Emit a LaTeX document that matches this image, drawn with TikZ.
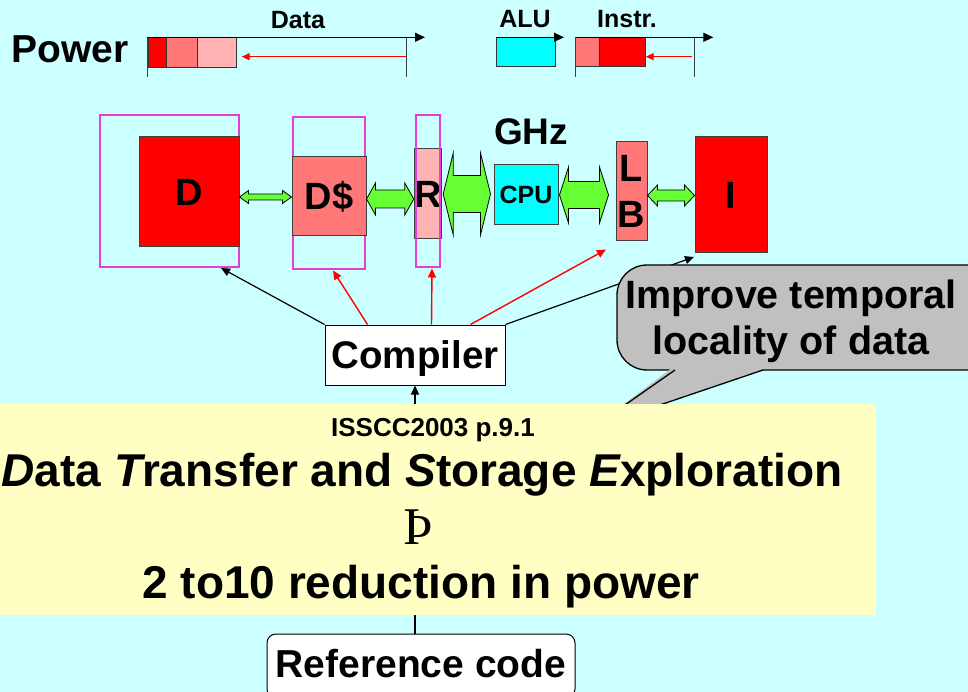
\documentclass[tikz,border=0pt]{standalone}
\usepackage{fontspec}
\setmainfont{Liberation Sans}
\newfontfamily\thornfont{Liberation Serif}
\usetikzlibrary{arrows.meta,calc}
\definecolor{bgcyan}{RGB}{204,255,255}
\definecolor{magcol}{RGB}{230,60,220}
\definecolor{grn}{RGB}{102,255,51}
\definecolor{pinkmid}{RGB}{255,119,119}
\definecolor{pinklight}{RGB}{255,179,179}
\definecolor{cyanbox}{RGB}{0,255,255}
\definecolor{callgray}{RGB}{192,192,192}
\definecolor{yel}{RGB}{255,255,195}
\newcommand\fs[1]{\fontsize{#1}{#1}\selectfont\bfseries}
\newcommand\fatarrow[5]{%
  \path[garrow] let \p1=(#1), \p2=(#2) in
    (\x1,\y1) -- (\x1+#5,\y1+#4) -- (\x1+#5,\y1+#3) -- (\x2-#5,\y1+#3) -- (\x2-#5,\y1+#4) --
    (\x2,\y1) -- (\x2-#5,\y1-#4) -- (\x2-#5,\y1-#3) -- (\x1+#5,\y1-#3) -- (\x1+#5,\y1-#4) -- cycle;}
\begin{document}
\begin{tikzpicture}[x=1pt,y=-1pt,
  box/.style={draw=black!75, line width=1pt, inner sep=0pt, font=\fs{38}},
  capt/.style={text height=27pt, text depth=0pt},
  outerbox/.style={draw=magcol, line width=1.4pt, inner sep=0pt},
  garrow/.style={fill=grn, draw=black, line width=0.8pt},
  blkarr/.style={draw=black, line width=1.2pt, -{Triangle[length=9pt,width=8pt]}},
  redarr/.style={draw=red, line width=1.4pt, -{Triangle[length=9pt,width=8pt]}},
  smallred/.style={draw=red, line width=1.4pt, -{Triangle[length=8pt,width=7pt]}},
  axis/.style={draw=black, line width=1.2pt, -{Triangle[length=10pt,width=9pt]}},
  tick/.style={draw=black!75, line width=1pt},
  seg/.style={draw=black!80, line width=1pt},
  lbl/.style={inner sep=0pt, anchor=base, font=\fs{25}},
]
\useasboundingbox (0,0) rectangle (968,692);
\clip (0,0) rectangle (968,692);
\fill[bgcyan] (0,0) rectangle (968,692);

% power timelines
\node[lbl, anchor=base west, font=\fs{39}] (power) at (11,63) {Power};
\node[lbl] (datal) at (298,29) {Data};
\filldraw[seg, fill=red] (148,37.3) rectangle (166.3,67.3);
\filldraw[seg, fill=pinkmid] (166.3,37.3) rectangle (197.3,67.3);
\filldraw[seg, fill=pinklight] (197.3,37.3) rectangle (236.7,67.3);
\draw[tick] (147.3,37.3) -- (147.3,77);
\draw[tick] (406,37.3) -- (406,77);
\draw[axis] (147.3,37.3) -- (425,37.3);
\draw[smallred] (406,56.7) -- (241.7,56.7);

\node[lbl] (alul) at (525,28) {ALU};
\filldraw[seg, fill=cyanbox] (496,37.3) rectangle (555.3,66.7);
\draw[axis] (496,37.3) -- (564,37.3);

\node[lbl] (instrl) at (627,27.5) {Instr.};
\filldraw[seg, fill=pinkmid] (575.7,37.3) rectangle (599.3,67);
\filldraw[seg, fill=red] (599.3,37.3) rectangle (645,67);
\draw[tick] (575.7,37.3) -- (575.7,77);
\draw[tick] (694.3,37.3) -- (694.3,77);
\draw[axis] (575.7,37.3) -- (713.3,37.3);
\draw[smallred] (692,56.7) -- (645.7,56.7);

% memory hierarchy
\node[outerbox, minimum width=139pt, minimum height=152pt] (Dout) at (169.5,191) {};
\node[box, capt, fill=red, minimum width=100pt, minimum height=110pt] (D) at (189,192) {D};
\node[outerbox, minimum width=72pt, minimum height=152pt] (Dsout) at (329,193) {};
\node[box, capt, fill=pinkmid, minimum width=74pt, minimum height=79pt] (Ds) at (329,196.5) {D\$};
\node[box, capt, fill=pinklight, minimum width=24pt, minimum height=90pt] (R) at (428,194) {R};
\node[outerbox, minimum width=24pt, minimum height=152pt] (Rout) at (428,191) {};
\node[lbl, font=\fs{37}] (ghz) at (531,145) {GHz};
\node[box, fill=cyanbox, minimum width=64pt, minimum height=60pt, font=\fs{25}, text height=18pt, text depth=0pt] (CPU) at (526,195) {CPU};
\node[box, fill=pinkmid, minimum width=31pt, minimum height=99pt, align=center, font=\fontsize{38}{46}\selectfont\bfseries] (LB) at (631.5,191.5) {L\\B};
\node[box, capt, fill=red, minimum width=72pt, minimum height=116pt] (I) at (731,195) {I};

\coordinate (y1) at (0,197);
\coordinate (y2) at (0,199);
\coordinate (y3) at (0,194);
\coordinate (y4) at (0,195);
\coordinate (y5) at (0,195.5);
\fatarrow{D.east |- y1}{Ds.west |- y1}{3pt}{6.5pt}{9pt}
\fatarrow{Ds.east |- y2}{R.west |- y2}{9pt}{16pt}{9pt}
\fatarrow{$(R.east |- y3)+(1,0)$}{$(CPU.west |- y3)+(-3,0)$}{18.5pt}{41pt}{10pt}
\fatarrow{$(CPU.east |- y4)+(1,0)$}{$(LB.west |- y4)+(-7,0)$}{13.5pt}{28pt}{9pt}
\fatarrow{LB.east |- y5}{I.west |- y5}{5.5pt}{10.5pt}{10pt}

% compiler
\node[box, draw=black, fill=white, minimum width=180pt, minimum height=60pt, text height=27.5pt, text depth=0pt, font=\fs{38.5}] (compiler) at (415,355) {Compiler};
\coordinate (tD) at (221,268);
\coordinate (tDs) at (333,270.5);
\coordinate (tR) at (432,268.5);
\coordinate (tLB) at (606,249.5);
\coordinate (tI) at (694,257);
\draw[blkarr] (compiler.north west) -- (tD);
\draw[redarr] ([xshift=43pt]compiler.north west) -- (tDs);
\draw[redarr] ([xshift=107pt]compiler.north west) -- (tR);
\draw[redarr] ([xshift=146pt]compiler.north west) -- (tLB);
\draw[blkarr] (compiler.north east) -- (tI);

% callout
\filldraw[fill=callgray, draw=black, line width=1.3pt, rounded corners=30pt] (617,265) rectangle (1010,370);
\fill[callgray] (672,368) -- (592,428) -- (767,368) -- cycle;
\draw[black, line width=1.3pt] (675,370) -- (592,428) -- (763,370);
\node[inner sep=0pt, align=center, font=\fontsize{39.5}{46}\selectfont\bfseries] (callt) at (791,321) {Improve temporal\\locality of data};

% reference code and band
\node[box, draw=black, fill=white, rounded corners=9pt, minimum width=308pt, minimum height=64pt, text height=28pt, text depth=6pt, font=\fs{39}] (ref) at (421,666) {Reference code};
\draw[blkarr] (compiler.south |- ref.north) -- (compiler.south);
\fill[yel] (0,403.5) rectangle (876,615);
\node[lbl, font=\fs{26}] (isscc) at (433,436.7) {ISSCC2003 p.9.1};
\node[lbl, font=\fs{46}] (dtse) at (422,486.7) {{\itshape D}ata {\itshape T}ransfer and {\itshape S}torage {\itshape E}xploration};
\node[lbl, font=\thornfont\fontsize{53}{53}\selectfont] (thorn) at (418,544) {Þ};
\node[lbl, font=\fs{46}] (redu) at (421,598) {2 to10 reduction in power};
\end{tikzpicture}
\end{document}
